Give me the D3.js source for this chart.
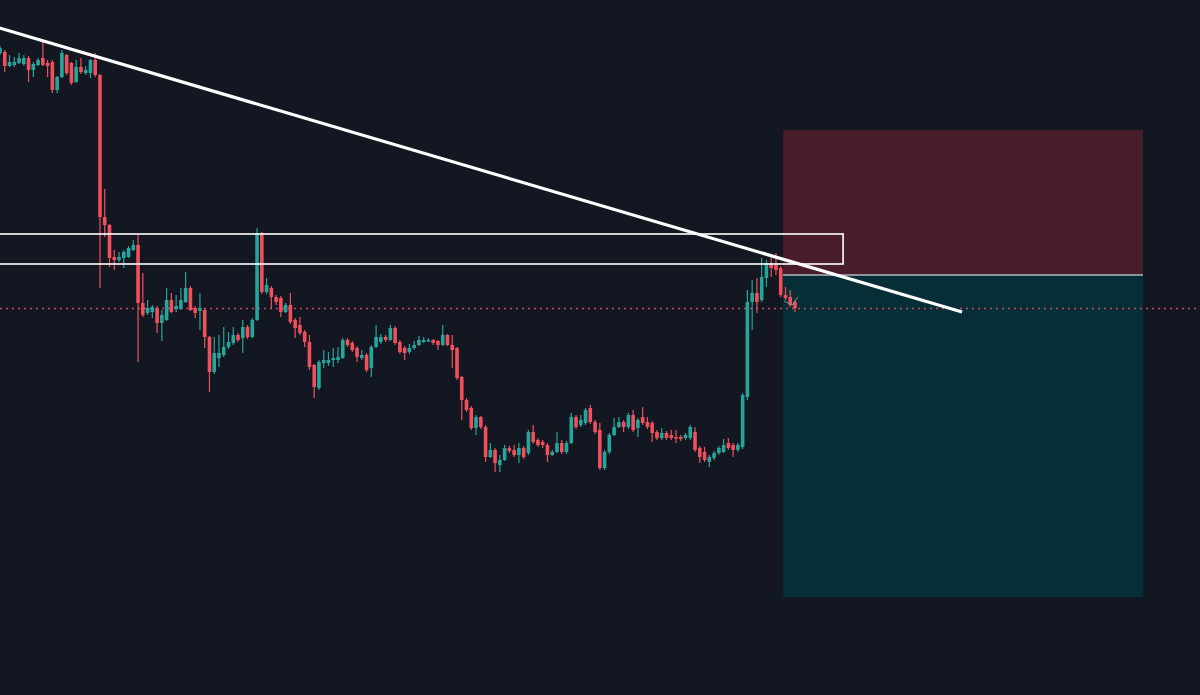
<!DOCTYPE html>
<html>
<head>
<meta charset="utf-8">
<script src="https://cdn.jsdelivr.net/npm/d3@7"></script>
<style>
  html, body { margin: 0; padding: 0; background: #131722; }
  svg { display: block; }
</style>
</head>
<body>
<svg id="chart" width="1200" height="695"></svg>
<script>
// ---- Candle data (price units) ----
const opens = [64.7,64.8,63.4,63.5,63.7,63.6,64.2,63.0,63.5,64.2,63.7,63.8,61.0,62.3,64.5,63.7,61.8,63.3,62.7,62.7,64.0,
62.5,48.3,47.5,44.3,44.0,44.2,44.3,45.0,45.5,39.7,38.7,38.8,39.2,37.7,38.0,40.0,39.1,39.1,39.8,41.2,39.2,38.9,39.0,36.3,
32.8,34.2,34.5,35.3,35.7,36.5,36.2,37.3,36.3,38.0,46.7,40.8,41.2,40.3,40.2,38.8,39.5,38.0,37.5,36.8,35.8,33.5,31.2,33.7,
33.7,34.0,34.0,34.2,36.0,35.7,35.2,34.2,34.5,33.2,35.3,35.8,36.3,36.0,37.2,35.8,35.2,34.8,35.2,35.5,35.8,35.9,36.0,35.9,
35.5,36.5,35.5,35.2,32.3,30.0,29.2,27.2,28.3,27.3,24.3,25.0,23.5,24.0,25.2,25.0,24.5,25.2,24.7,26.8,26.0,25.8,25.5,24.5,
24.8,25.7,24.8,25.7,28.3,27.5,27.7,29.2,27.8,27.0,23.2,24.8,26.5,27.3,27.8,27.3,28.5,27.2,28.3,27.8,27.7,26.8,26.2,26.7,
26.5,26.3,26.3,26.2,26.2,26.8,25.2,24.8,23.8,24.2,24.7,24.8,25.7,25.5,25.0,25.3,30.3,39.8,40.7,40.0,42.2,43.7,43.5,43.2,
40.5,40.3,39.8];
const highs = [65.4,65.0,64.5,64.3,64.7,64.5,64.4,63.8,64.2,65.8,64.0,64.0,62.4,65.0,64.6,63.8,64.0,64.2,63.4,64.1,64.7,
62.6,51.1,47.6,45.0,44.8,45.0,45.4,46.0,46.5,42.7,40.0,39.5,39.4,39.0,41.2,40.7,40.5,41.2,42.8,41.4,39.4,40.7,39.2,36.4,
36.3,36.5,37.3,36.8,37.3,36.7,38.0,37.5,38.2,47.2,46.8,42.2,41.4,40.5,40.4,39.7,40.7,38.2,38.3,37.0,36.5,33.6,34.0,35.0,
34.8,35.2,35.3,36.2,36.2,35.9,35.4,35.0,34.7,35.5,37.5,36.6,36.5,37.5,37.4,36.0,35.4,35.6,35.9,36.4,36.3,36.2,36.1,36.0,
37.5,36.6,36.5,35.3,32.4,30.2,29.4,28.5,28.4,27.5,25.7,25.2,24.5,25.5,25.4,25.5,25.7,25.4,27.0,27.5,26.2,26.0,25.7,25.0,
26.8,26.0,25.9,28.7,28.5,28.5,29.2,29.5,28.0,27.7,25.0,26.7,28.2,28.3,28.0,28.7,29.0,28.2,29.3,28.3,27.9,27.0,27.2,26.9,
27.0,27.0,26.5,26.7,27.5,27.3,25.4,25.3,24.5,24.9,25.4,26.1,26.2,25.7,25.7,30.7,41.0,42.0,42.2,44.2,44.0,44.5,44.7,43.4,
41.3,41.0,40.0];
const lows = [64.5,62.8,63.3,63.3,63.6,63.4,61.8,62.3,63.4,63.4,62.3,60.7,60.7,62.2,62.5,61.5,61.7,62.6,62.5,62.2,62.3,
41.2,46.3,43.3,43.0,43.8,43.2,44.2,44.9,33.8,38.3,38.5,38.2,36.7,35.9,37.9,38.7,38.8,39.0,39.7,38.9,38.2,37.0,35.2,30.8,
32.6,33.3,34.3,35.1,35.5,35.8,34.7,36.1,36.2,37.9,40.6,40.6,39.2,39.5,38.3,38.7,37.6,36.2,36.5,35.3,33.0,30.2,31.0,33.2,
33.4,33.3,33.7,34.1,35.3,34.8,33.8,34.0,32.8,32.3,35.2,35.6,35.8,35.9,35.5,34.6,34.0,34.6,35.0,35.4,35.7,35.8,35.5,35.0,
35.4,35.4,33.2,32.0,28.0,28.8,27.0,26.5,27.1,23.8,24.2,22.8,22.8,23.9,24.7,24.3,23.7,24.1,24.5,25.6,25.3,25.2,23.8,24.4,
24.7,24.6,24.6,25.6,27.1,27.3,27.5,27.6,26.6,23.0,23.0,24.6,26.4,27.2,26.8,27.1,26.8,26.3,27.5,27.1,25.8,26.0,26.0,26.0,
26.0,25.7,25.9,26.0,26.0,24.8,23.7,23.8,23.3,24.0,24.5,24.7,25.0,24.3,24.8,25.1,30.0,37.0,38.7,39.8,41.3,42.3,42.5,40.3,
40.0,39.3,38.8];
const closes = [65.2,63.4,63.8,63.8,64.2,64.2,63.0,63.6,64.0,63.5,63.4,61.0,62.3,64.7,62.7,61.7,63.3,62.8,63.0,64.0,62.5,
48.3,47.5,44.2,44.0,44.3,44.8,45.2,45.5,39.7,38.5,39.2,39.3,37.7,38.5,40.0,38.8,39.4,40.0,41.2,39.0,38.7,39.2,36.3,32.8,
34.7,34.7,35.3,35.8,36.5,36.0,37.3,36.3,38.0,46.7,40.8,41.5,40.3,39.8,38.8,39.5,37.8,37.2,36.7,35.8,33.3,31.3,33.8,34.0,
34.0,34.2,34.3,36.0,35.5,35.0,34.3,34.5,33.0,35.3,36.3,36.3,36.0,37.2,35.7,34.8,34.7,35.2,35.5,36.0,36.0,36.0,35.7,35.5,
36.5,35.5,35.0,32.2,30.0,29.0,27.2,28.3,27.3,24.3,25.0,23.7,24.0,25.2,24.9,24.5,25.2,24.3,26.8,25.8,25.5,25.5,24.5,24.8,
25.7,24.8,25.7,28.3,27.3,28.0,29.0,27.8,26.8,23.2,24.8,26.5,27.3,27.8,27.3,28.5,27.0,28.0,27.7,27.3,26.7,26.2,26.7,26.2,
26.2,26.2,26.1,26.5,27.3,25.0,24.3,24.0,24.3,24.7,25.2,25.5,25.2,25.0,25.5,30.5,39.8,40.7,39.8,42.3,43.7,43.2,43.0,40.5,
40.2,39.5,39.2];

// ---- Annotations (bar index / price units) ----
const trendLine = [[-0.5, 67.25], [202.1, 38.8]];
const zoneTop = 46.6, zoneBottom = 43.6, zoneStart = -5, zoneEnd = 177.1;
const posStart = 164.5, posEnd = 240.1;
const stopPrice = 57.0, entryPrice = 42.5, targetPrice = 10.3;
const cursorMark = [[164.7, 39.9], [166.4, 39.5], [167.6, 40.3]];

const W = 1200, H = 695;
const svg = d3.select("#chart");
const n = closes.length;
const x = d3.scaleLinear().domain([0, n - 1]).range([0, 795]);
const y = d3.scaleLinear().domain([70, 0.5]).range([0, H]);
const UP = "#26a69a", DOWN = "#f0505c";

svg.append("rect").attr("width", W).attr("height", H).attr("fill", "#131722");

// Position box (short)
svg.append("rect")
  .attr("x", x(posStart)).attr("y", y(stopPrice))
  .attr("width", x(posEnd) - x(posStart)).attr("height", y(entryPrice) - y(stopPrice))
  .attr("fill", "#481c29");
svg.append("rect")
  .attr("x", x(posStart)).attr("y", y(entryPrice))
  .attr("width", x(posEnd) - x(posStart)).attr("height", y(targetPrice) - y(entryPrice))
  .attr("fill", "#052e36");
svg.append("line")
  .attr("x1", x(posStart)).attr("x2", x(posEnd))
  .attr("y1", y(entryPrice)).attr("y2", y(entryPrice))
  .attr("stroke", "#8f929b").attr("stroke-width", 2);

// Last price dotted line
const lastPrice = closes[n - 1];
svg.append("line")
  .attr("x1", 0).attr("x2", W)
  .attr("y1", Math.round(y(lastPrice)) + 0.5).attr("y2", Math.round(y(lastPrice)) + 0.5)
  .attr("stroke", "#e65564").attr("stroke-opacity", 0.85)
  .attr("stroke-width", 1.4).attr("stroke-dasharray", "2,4");

// Candles
const idx = d3.range(n);
const g = svg.append("g");
g.selectAll("line.wick").data(idx).join("line")
  .attr("class", "wick")
  .attr("x1", i => x(i)).attr("x2", i => x(i))
  .attr("y1", i => y(highs[i])).attr("y2", i => y(lows[i]))
  .attr("stroke", i => closes[i] >= opens[i] ? UP : DOWN)
  .attr("stroke-width", 1.2);
g.selectAll("rect.body").data(idx).join("rect")
  .attr("class", "body")
  .attr("x", i => x(i) - 1.8)
  .attr("width", 3.6)
  .attr("y", i => y(Math.max(opens[i], closes[i])))
  .attr("height", i => Math.max(1.5, Math.abs(y(opens[i]) - y(closes[i]))))
  .attr("fill", i => closes[i] >= opens[i] ? UP : DOWN);

// Cursor mark
svg.append("path")
  .attr("d", d3.line().x(d => x(d[0])).y(d => y(d[1]))(cursorMark))
  .attr("fill", "none").attr("stroke", "#8f929b").attr("stroke-width", 1);

// Horizontal zone rectangle
svg.append("rect")
  .attr("x", x(zoneStart)).attr("y", y(zoneTop))
  .attr("width", x(zoneEnd) - x(zoneStart)).attr("height", y(zoneBottom) - y(zoneTop))
  .attr("fill", "none").attr("stroke", "#ffffff").attr("stroke-width", 1.6);

// Trendline
svg.append("path")
  .attr("d", d3.line().x(d => x(d[0])).y(d => y(d[1]))(trendLine))
  .attr("fill", "none").attr("stroke", "#ffffff").attr("stroke-width", 3.2);
</script>
</body>
</html>
